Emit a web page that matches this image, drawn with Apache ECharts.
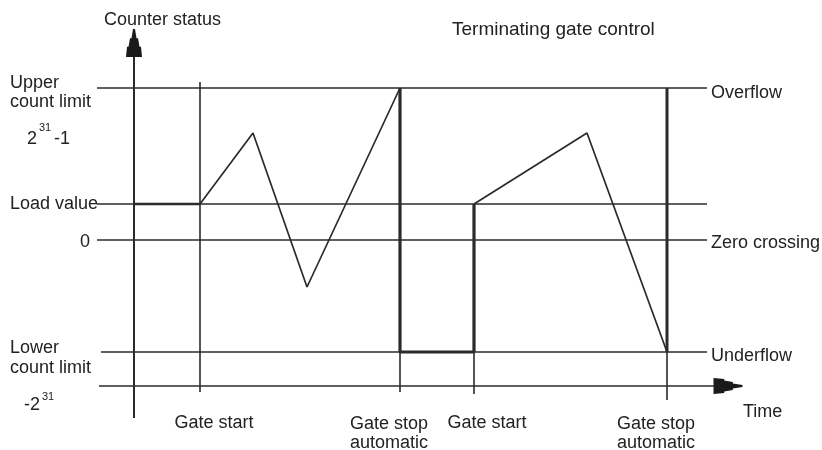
<!DOCTYPE html>
<html>
<head>
<meta charset="utf-8">
<script src="https://cdn.jsdelivr.net/npm/echarts@6/dist/echarts.min.js"></script>
<style>
  html, body { margin: 0; padding: 0; background: #fff; }
  #main { width: 822px; height: 450px; }
</style>
</head>
<body>
<div id="main"></div>
<script>
// time runs along x (0 = counter status axis), counter value along y (0 = zero crossing)
const levelNames = ['Overflow', 'Load value', 'Zero crossing', 'Underflow'];
const levelValues = [152, 36, 0, -112];
const levelStart = [-37, -37, -37, -33];
const levelEnd = 573;

const timeAxisValue = -146;
const timeAxisRange = [-35, 584];
const timeArrowAt = [594, -146];

const counterAxisRange = [-178, 184];
const counterArrowAt = [0, 197];

const gateNames = ['Gate start', 'Gate stop automatic', 'Gate start', 'Gate stop automatic'];
const gateTimes = [66, 266, 340, 533];
const gateTop = [158, 152, 36, 152];
const gateBottom = [-152, -152, -154, -160];

// counter curve: ramps (thin) and jumps / holds (thick)
const ramp1Time = [66, 119, 173, 266];
const ramp1Value = [36, 107, -47, 152];
const ramp2Time = [340, 453, 533];
const ramp2Value = [36, 107, -112];
const holdTime = [0, 66];
const holdValue = [36, 36];
const jumpTime = [266, 266, 340, 340];
const jumpValue = [152, -112, -112, 36];
const jump2Time = [533, 533];
const jump2Value = [-112, 152];

const ink = '#2b2b2b';
const font = "'Liberation Sans', Arial, sans-serif";

function pairs(xs, ys) {
  return xs.map((x, i) => [x, ys[i]]);
}

function seg(data, width) {
  return {
    type: 'line', data: data, showSymbol: false, silent: true,
    lineStyle: { color: ink, width: width }, z: 3
  };
}

const series = [];
levelValues.forEach((v, i) => {
  series.push(seg([[levelStart[i], v], [levelEnd, v]], 1.6));
});
series.push(seg([[timeAxisRange[0], timeAxisValue], [timeAxisRange[1], timeAxisValue]], 1.6));
series.push(seg([[0, counterAxisRange[0]], [0, counterAxisRange[1]]], 2));
gateTimes.forEach((t, i) => {
  series.push(seg([[t, gateTop[i]], [t, gateBottom[i]]], 1.6));
});
series.push(seg(pairs(ramp1Time, ramp1Value), 1.7));
series.push(seg(pairs(ramp2Time, ramp2Value), 1.7));
series.push(seg(pairs(holdTime, holdValue), 2.6));
series.push(Object.assign(seg(pairs(jumpTime, jumpValue), 3.2), { z: 4 }));
series.push(Object.assign(seg(pairs(jump2Time, jump2Value), 3), { z: 4 }));

// stepped "pagoda" arrow head, pointing up
const arrowPath = 'path://M7,0 L9,0 L10.5,9 L12,9 L13.5,17 L15,17 L16,27 L0,27 L1,17 L2.5,17 L4,9 L5.5,9 Z';
const arrowStyle = { color: '#1a1a1a', opacity: 1 };
series.push({
  type: 'scatter', silent: true, z: 5,
  data: [counterArrowAt],
  symbol: arrowPath, symbolSize: [16, 28],
  itemStyle: arrowStyle
});
series.push({
  type: 'scatter', silent: true, z: 5,
  data: [timeArrowAt],
  symbol: arrowPath, symbolSize: [16, 29], symbolRotate: -90,
  itemStyle: arrowStyle
});

function txt(text, x, y, size, align) {
  return {
    type: 'text', x: x, y: y, silent: true,
    style: {
      text: text, fill: '#222', font: size + 'px ' + font,
      align: align || 'left', verticalAlign: 'middle'
    }
  };
}

const graphic = [
  txt('Counter status', 104, 20, 18),
  txt('Terminating gate control', 452, 30, 19),
  txt('Upper', 10, 83, 18),
  txt('count limit', 10, 102, 18),
  txt('2', 27, 139, 18),
  txt('31', 39, 128, 11),
  txt('-1', 54, 139, 18),
  txt(levelNames[1], 10, 204, 18),
  txt('0', 80, 242, 18),
  txt('Lower', 10, 348, 18),
  txt('count limit', 10, 368, 18),
  txt('-2', 24, 405, 18),
  txt('31', 42, 397, 11),
  txt(levelNames[0], 711, 93, 18),
  txt(levelNames[2], 711, 243, 18),
  txt(levelNames[3], 711, 356, 18),
  txt('Time', 743, 412, 18),
  txt('Gate start', 214, 423, 18, 'center'),
  txt('Gate stop', 389, 424, 18, 'center'),
  txt('automatic', 389, 443, 18, 'center'),
  txt('Gate start', 487, 423, 18, 'center'),
  txt('Gate stop', 656, 424, 18, 'center'),
  txt('automatic', 656, 443, 18, 'center')
];

const chart = echarts.init(document.getElementById('main'));
chart.setOption({
  animation: false,
  backgroundColor: '#fff',
  grid: { left: 0, right: 0, top: 0, bottom: 0 },
  xAxis: { type: 'value', min: -134, max: 688, show: false },
  yAxis: { type: 'value', min: -210, max: 240, show: false },
  series: series,
  graphic: graphic
});
</script>
</body>
</html>
